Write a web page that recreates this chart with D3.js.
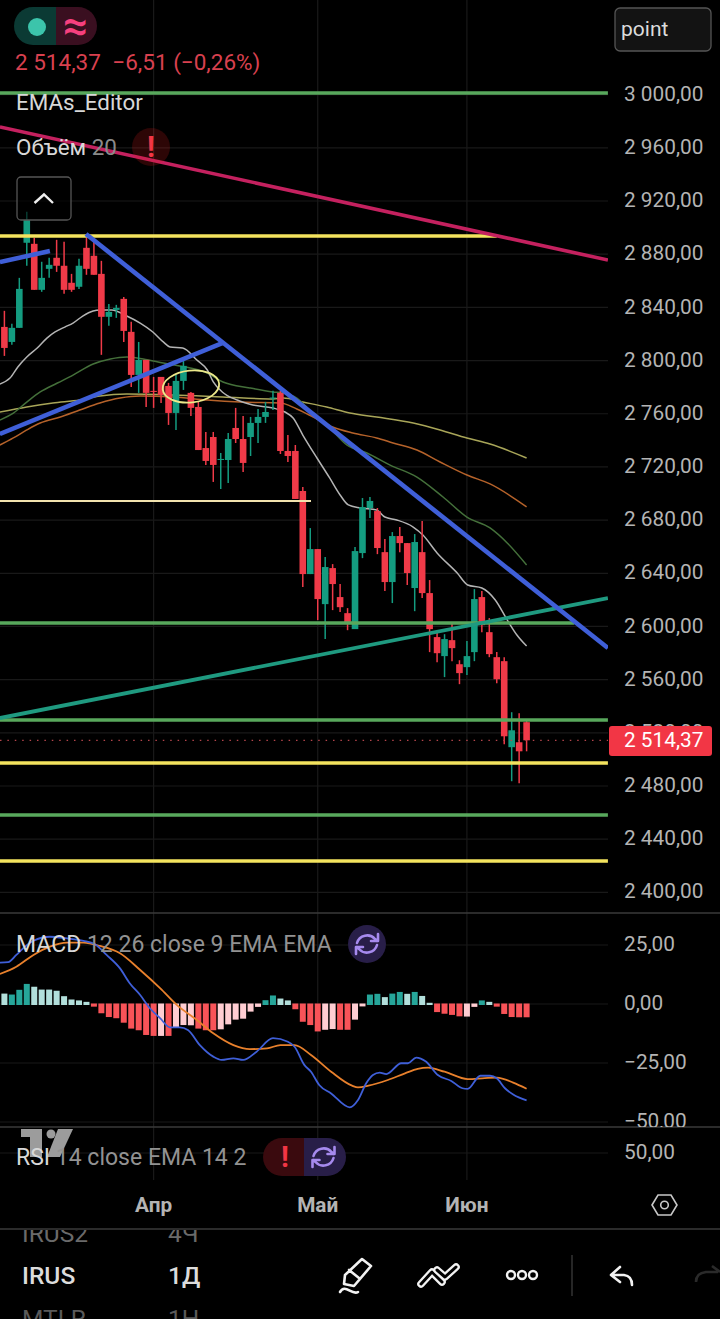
<!DOCTYPE html>
<html lang="ru"><head><meta charset="utf-8">
<script src="https://cdn.jsdelivr.net/npm/d3@7/dist/d3.min.js"></script>
<style>html,body{margin:0;background:#000;overflow:hidden}svg{display:block;font-family:Roboto,sans-serif}</style>
</head><body><div id="c"></div>
<script>
// ---------- candles (index 0..70) ----------
const open=[2825.3,2814.0,2824.6,2888.6,2887.8,2853.2,2869.0,2877.3,2871.3,2858.5,2855.5,2884.8,2878.8,2865.2,2832.9,2838.1,2846.4,2821.6,2789.2,2800.5,2777.2,2787.7,2780.9,2760.6,2784.7,2775.7,2765.1,2734.2,2742.5,2725.2,2725.2,2749.3,2741.0,2742.5,2753.1,2757.6,2771.5,2775.7,2732.0,2732.0,2701.9,2639.4,2658.2,2616.8,2643.9,2622.1,2610.0,2598.0,2655.2,2689.1,2686.8,2655.9,2633.4,2668.0,2662.7,2628.9,2655.9,2625.1,2592.0,2577.7,2589.7,2571.6,2569.4,2580.7,2622.1,2595.7,2576.9,2573.9,2509.2,2512.9,2528.0];
const high=[2837.4,2827.6,2862.2,2911.9,2892.3,2874.3,2877.3,2890.8,2889.3,2865.2,2876.5,2892.3,2889.3,2875.0,2842.6,2841.9,2847.9,2829.1,2814.0,2800.5,2787.7,2787.7,2783.2,2789.2,2800.5,2776.4,2769.6,2746.3,2746.3,2730.5,2745.5,2764.4,2758.3,2757.6,2763.6,2768.9,2777.2,2777.2,2744.0,2736.5,2704.9,2674.0,2658.2,2652.2,2646.9,2631.9,2613.8,2659.7,2696.6,2697.4,2689.1,2665.7,2671.0,2674.8,2662.7,2669.5,2679.3,2634.9,2595.0,2594.2,2602.5,2574.6,2589.0,2628.1,2626.6,2606.3,2580.7,2576.9,2535.5,2534.8,2529.5];
const low=[2803.5,2811.8,2824.6,2871.3,2853.2,2851.7,2862.2,2866.7,2850.2,2851.7,2853.9,2864.5,2864.5,2804.3,2826.1,2832.1,2814.0,2780.2,2775.7,2765.1,2764.4,2768.1,2751.6,2747.8,2777.9,2758.3,2732.7,2721.5,2708.7,2703.4,2707.9,2738.0,2716.2,2728.2,2738.0,2753.1,2762.9,2729.7,2723.7,2695.9,2629.6,2639.4,2604.8,2590.5,2612.3,2610.8,2597.2,2598.0,2651.4,2681.5,2654.4,2626.6,2617.6,2655.9,2631.1,2611.5,2621.4,2580.7,2573.1,2561.9,2573.9,2556.6,2563.4,2573.9,2595.7,2576.9,2557.3,2511.4,2483.6,2482.1,2506.1];
const close=[2809.5,2824.6,2853.9,2905.9,2853.2,2862.2,2872.0,2871.3,2853.2,2853.2,2871.3,2869.0,2864.5,2832.9,2836.6,2839.6,2822.3,2789.2,2800.5,2775.7,2776.4,2774.1,2760.6,2784.7,2796.0,2764.4,2732.7,2724.5,2721.5,2726.0,2741.0,2741.0,2723.0,2753.1,2757.6,2761.3,2772.2,2732.0,2728.2,2695.9,2639.4,2658.2,2620.6,2644.7,2631.9,2614.5,2601.8,2656.7,2689.8,2694.4,2659.0,2633.4,2668.0,2662.7,2640.2,2663.5,2625.1,2598.0,2579.9,2590.5,2583.7,2564.9,2577.7,2620.6,2601.0,2579.2,2560.3,2517.4,2521.9,2506.1,2514.37];

// ---------- moving averages: [candle index, price] ----------
const emaGray=[[-0.6,2782.4],[0.75,2786.9],[1.8,2795.2],[3,2802.7],[4.4,2809.4],[5.7,2816.9],[6.8,2821.5],[8.1,2825.2],[9.2,2828.2],[10.5,2833.5],[11.9,2837.3],[12.8,2838],[14.4,2838],[16.4,2833.5],[18.2,2828.2],[19.9,2821.5],[21.3,2814],[22.2,2810.2],[23.9,2809.4],[25.8,2800.4],[27.2,2792.9],[28,2783.9],[29.2,2776.4],[31.2,2770.3],[33.3,2766.6],[36,2764.3],[37.6,2761.3],[38.7,2756.8],[40,2744],[41.9,2726.7],[43.6,2711.7],[45,2698.9],[46.1,2691.4],[47.7,2689.1],[49.9,2687.6],[51,2682.3],[52.6,2680.1],[54.8,2674.8],[56.1,2668.8],[58,2655.3],[60.7,2640.2],[62.1,2631.2],[64,2628.9],[65.8,2619.9],[67.4,2604.9],[68.7,2593.6],[70,2585.3]];
const emaOlive=[[-0.6,2755.3],[1.2,2760.5],[3,2768.8],[4.8,2776.4],[7.1,2783.1],[9.2,2789.1],[11.9,2797.4],[14.2,2801.2],[16.4,2802.7],[18.6,2801.2],[21.3,2798.2],[24.9,2794.4],[27.2,2790.6],[29.3,2783.9],[32.9,2779.4],[36,2776.4],[37.4,2775.6],[39.2,2771.8],[41.4,2759.8],[43.6,2749.3],[45.9,2736.5],[48.6,2730.5],[51.7,2721.4],[55.3,2712.4],[58.8,2697.4],[62,2682.3],[65.1,2674.1],[67.4,2662.8],[70,2646.2]];
const emaKhaki=[[-0.6,2761.3],[3,2765.1],[6.5,2768.1],[10.1,2770.3],[12.8,2773.3],[16.4,2774.8],[22.6,2774.1],[29.3,2772.6],[36,2771.1],[37.4,2771.8],[40,2768.8],[43.2,2765.1],[46.3,2760.5],[49.9,2757.5],[54.8,2753],[58.4,2747.8],[62,2741.7],[65.1,2737.2],[70,2726.7]];
const emaOrange=[[-0.6,2736.5],[1.2,2741.8],[3,2747.8],[4.8,2753],[7.5,2757.5],[10.1,2762.8],[12.8,2768.1],[15.5,2771.8],[18.2,2773.3],[22.6,2772.6],[27.2,2770.3],[31.6,2768.8],[37,2768.1],[39.2,2763.6],[41.4,2757.5],[44,2750],[46.7,2745.5],[49.9,2741.8],[52.1,2738],[55.3,2732.7],[58.4,2723.7],[62,2713.9],[65.1,2707.2],[70,2689.9]];

// ---------- drawings: [index a, price a, index b, price b] ----------
const greenLevels=[[-0.6,3001.2,80.9,3001.2],[-0.6,2602.6,76.4,2602.6],[-0.6,2529.6,80.9,2529.6],[-0.6,2458.2,80.9,2458.2]];
const yellowLevels=[[-0.6,2893.7,66,2893.7],[-0.6,2497.3,80.9,2497.3],[-0.6,2423.6,80.9,2423.6]];
const creamLevels=[[-0.6,2694.4,41.1,2694.4]];
const pinkLines=[[-0.6,2975.7,80.9,2875.6]];
const tealLines=[[-0.6,2531.1,80.9,2621.4]];
const blueLines=[[10.94,2895.2,80.9,2583.8],[-0.6,2744.8,29.2,2813.2],[-0.6,2874.1,6.1,2882.4]];
const ellipseAt=[25,2780.5];

// ---------- MACD ----------
const hist=[4.2,3.8,5.8,8.3,7.1,5.9,5.9,5.4,3.1,1.7,1.3,0.7,-0.7,-3.5,-5.1,-5.6,-7.5,-10,-10.7,-12.7,-13.1,-13.1,-13.1,-9.6,-8.5,-8.6,-10,-10.7,-10.7,-10.3,-8.2,-6.2,-5.8,-2.8,-0.8,1.4,3.4,2.1,1.3,-1.8,-7.1,-8.5,-11.2,-10.5,-10.2,-10.5,-10.5,-6.2,-0.6,3.8,4.1,2.7,4.2,4.9,4.1,4.9,3.2,0.3,-3,-3.7,-4.2,-4.8,-4.9,-0.8,1.3,0.7,-0.7,-3.8,-5.1,-5.2,-5.2];
const histKinds=["l","g","g","g","l","l","l","l","l","l","l","l","r","r","r","r","r","r","r","r","r","p","r","p","p","p","r","r","r","p","p","p","p","p","p","g","g","l","l","r","r","r","r","p","p","r","r","p","p","g","g","l","g","g","l","g","l","l","r","r","r","r","p","p","g","l","r","r","r","r","r"];
const macdBlue=[[-0.6,17.5],[0.5,17.7],[1.6,20.8],[2.5,23.6],[3.9,26.8],[6.1,28.5],[8.4,27.8],[10.6,26.8],[12.1,25.4],[13.7,20.8],[15.5,15.1],[16.8,8.8],[18.2,3.8],[19.5,-1.8],[20.9,-6.1],[22.2,-9.9],[23.5,-9.9],[24.6,-11],[26.2,-17.4],[28,-22.3],[29.1,-23.7],[30.7,-23],[32,-23.7],[33.8,-20.2],[36,-14.5],[38,-16],[38.9,-18.1],[40.2,-25.8],[41.1,-28.7],[42.2,-34.3],[43.8,-37.9],[46.3,-43.8],[47.4,-40.7],[48.5,-33.6],[49.4,-30.1],[50.3,-29.1],[51.2,-29.7],[53.2,-25.1],[54.1,-25.1],[55.2,-22.7],[56.5,-24.4],[58.1,-30.1],[59.9,-32.6],[61.4,-35.7],[62.1,-36],[63.8,-30.4],[65.1,-30.4],[66,-31.5],[67.1,-35.7],[68.2,-38.3],[70,-40.8]];
const macdOrange=[[-0.6,12.7],[1.6,15.8],[3.9,20.8],[6.1,24.3],[8.4,26],[10.6,26],[12.8,24.6],[15.5,21.5],[18.2,14.4],[20.9,6.6],[23.1,-0.4],[25.8,-6.8],[28,-12.4],[30.7,-17.4],[32.9,-19.1],[35.2,-18.8],[37,-17.4],[38.9,-17.4],[41.1,-21.6],[43.8,-28.7],[46.6,-34.6],[47.4,-35.3],[48.8,-34.6],[51.4,-32.2],[53.7,-29.4],[55.4,-27.5],[56.8,-27],[59,-28.7],[62.1,-31.8],[64.4,-31.4],[66,-31.2],[68.2,-33.3],[70,-35.9]];

// ---------- axes ----------
const priceTicks=d3.range(3000,2399,-40);
const macdTicks=[25,0,-25,-50];
const rsiTicks=[50];
const monthNames=["Апр","Май","Июн"];
const monthIdx=[20,42,62];
const lastPrice=2514.37;

const W=720,H=1319,paneR=608;
const svg=d3.select("#c").append("svg").attr("width",W).attr("height",H).style("background","#000");
const defs=svg.append("defs");
const clip=(id,x,y,w,h)=>defs.append("clipPath").attr("id",id).append("rect").attr("x",x).attr("y",y).attr("width",w).attr("height",h);
clip("mainClip",0,0,paneR,913);clip("macdClip",0,914,paneR,213);clip("macdAxis",608,914,112,213);clip("listClip",0,1230,W,89);

const x=d3.scaleLinear().domain([0,70]).range([4.4,526.6]);
const y=d3.scaleLinear().domain([3000,2400]).range([94.66,892.36]);
const ym=d3.scaleLinear().domain([25,-50]).range([945,1122]);
const yr=d3.scaleLinear().domain([50,0]).range([1153,1290]);
const ru=d3.formatLocale({decimal:",",thousands:"\u00a0",grouping:[3],currency:["",""],minus:"\u2212"});
const fmt=ru.format(",.2f");

const GRID="#191919",SEP="#3a3a3a",AX="#b4b4b4";
// vertical grid
svg.append("g").selectAll("line").data(monthIdx).join("line").attr("x1",d=>x(d)).attr("x2",d=>x(d)).attr("y1",0).attr("y2",1180).attr("stroke",GRID).attr("stroke-width",1.2);
// horizontal grid
const hgrid=(sc,t,cp)=>svg.append("g").attr("clip-path",cp).selectAll("line").data(t).join("line").attr("x1",0).attr("x2",paneR).attr("y1",d=>sc(d)).attr("y2",d=>sc(d)).attr("stroke",GRID).attr("stroke-width",1.2);
hgrid(y,priceTicks,"url(#mainClip)");hgrid(ym,macdTicks,"url(#macdClip)");hgrid(yr,rsiTicks,null);

// main pane
const main=svg.append("g").attr("clip-path","url(#mainClip)");
const line=(sc)=>d3.line().x(d=>x(d[0])).y(d=>sc(d[1])).curve(d3.curveMonotoneX);
[[emaKhaki,"#a8a558"],[emaOrange,"#b5622a"],[emaOlive,"#44703a"],[emaGray,"#b4b4b4"]].forEach(([d,c])=>
  main.append("path").datum(d).attr("d",line(y)).attr("fill","none").attr("stroke",c).attr("stroke-width",1.5));

const UP="#149c80",DOWN="#f03a48";
const kcol=i=>close[i]>=open[i]?UP:DOWN;
const idx=d3.range(open.length);
main.append("g").selectAll("line").data(idx).join("line").attr("x1",i=>x(i)).attr("x2",i=>x(i)).attr("y1",i=>y(high[i])).attr("y2",i=>y(low[i])).attr("stroke",kcol).attr("stroke-width",1.5);
main.append("g").selectAll("rect").data(idx).join("rect").attr("x",i=>x(i)-3.3).attr("width",6.6)
 .attr("y",i=>y(Math.max(open[i],close[i]))).attr("height",i=>Math.max(1,Math.abs(y(open[i])-y(close[i])))).attr("fill",kcol);

// dotted last price
main.append("line").attr("x1",0).attr("x2",paneR).attr("y1",y(lastPrice)).attr("y2",y(lastPrice)).attr("stroke","#b5454c").attr("stroke-width",1.2).attr("stroke-dasharray","1.5 5.9");

const seg=(arr,c,w)=>main.append("g").selectAll("line").data(arr).join("line").attr("x1",d=>x(d[0])).attr("y1",d=>y(d[1])).attr("x2",d=>x(d[2])).attr("y2",d=>y(d[3])).attr("stroke",c).attr("stroke-width",w);
seg(greenLevels,"#58a85c",3.6);
seg(yellowLevels,"#f3e35e",3.6);
seg(creamLevels,"#f2e3ae",2);
seg(tealLines,"#1f9a80",3.8);
seg(pinkLines,"#c4215f",3.6);
seg(blueLines,"#3f5fd8",4.6);
const ex=x(ellipseAt[0]),ey=y(ellipseAt[1]);
main.append("ellipse").attr("cx",ex).attr("cy",ey).attr("rx",x(ellipseAt[0]+3.8)-ex).attr("ry",y(ellipseAt[1]-12)-ey)
 .attr("transform",`rotate(-6 ${ex} ${ey})`).attr("fill","none").attr("stroke","#ece88a").attr("stroke-width",1.8);

// MACD pane
const macd=svg.append("g").attr("clip-path","url(#macdClip)");
const kinds={g:"#26a69a",l:"#b2dfdb",r:"#f85358",p:"#ffcdd2"};
macd.append("g").selectAll("rect").data(hist).join("rect").attr("x",(d,i)=>x(i)-3).attr("width",6)
 .attr("y",d=>ym(Math.max(d,0))-0.5).attr("height",d=>Math.abs(ym(d)-ym(0))+1.5).attr("fill",(d,i)=>kinds[histKinds[i]]);
macd.append("path").datum(macdOrange).attr("d",line(ym)).attr("fill","none").attr("stroke","#e8802c").attr("stroke-width",1.8);
macd.append("path").datum(macdBlue).attr("d",line(ym)).attr("fill","none").attr("stroke","#3f5fd8").attr("stroke-width",1.8);

// separators
svg.append("g").selectAll("line").data([913,1127,1229]).join("line").attr("x1",0).attr("x2",W).attr("y1",d=>d).attr("y2",d=>d).attr("stroke",SEP).attr("stroke-width",1.4);

// right axes
const styleAxis=g=>{g.select(".domain").remove();g.selectAll("text").attr("fill",AX).attr("font-size",20.8).attr("font-family","Roboto").attr("x",16).attr("dy","0.27em").attr("text-anchor","start");};
svg.append("g").attr("transform",`translate(${paneR},0)`).call(d3.axisRight(y).tickValues(priceTicks).tickSize(0).tickFormat(fmt)).call(styleAxis);
svg.append("g").attr("clip-path","url(#macdAxis)").append("g").attr("transform",`translate(${paneR},0)`).call(d3.axisRight(ym).tickValues(macdTicks).tickSize(0).tickFormat(fmt)).call(styleAxis);
svg.append("g").attr("transform",`translate(${paneR},0)`).call(d3.axisRight(yr).tickValues(rsiTicks).tickSize(0).tickFormat(fmt)).call(styleAxis);

// last price label
svg.append("rect").attr("x",609).attr("y",726).attr("width",103).attr("height",30).attr("rx",3).attr("fill","#f23645");
svg.append("text").attr("x",624).attr("y",y(lastPrice)-1).attr("dy","0.36em").attr("fill","#fff").attr("font-size",20.8).text(fmt(lastPrice));

// month labels
svg.append("g").selectAll("text").data(monthIdx).join("text").attr("x",d=>x(d)).attr("y",1212).attr("text-anchor","middle").attr("fill",AX).attr("font-size",20.8).attr("font-weight",700).text((d,i)=>monthNames[i]);

// helpers
const T=(xx,yy,s,c,fs,w)=>svg.append("text").attr("x",xx).attr("y",yy).attr("fill",c).attr("font-size",fs).attr("font-weight",w||400).text(s);
const alertMark=(cx,cy)=>svg.append("text").attr("x",cx).attr("y",cy+10).attr("text-anchor","middle").attr("fill","#f23645").attr("font-size",29).attr("font-weight",700).text("!");
const sync=(cx,cy)=>{
  const g=svg.append("g").attr("transform",`translate(${cx},${cy})`).attr("fill","none").attr("stroke","#a68aee").attr("stroke-width",2.6).attr("stroke-linecap","round").attr("stroke-linejoin","round");
  g.append("path").attr("d","M-10,-1 A10.5,10.5 0 0 1 8,-5 L10,-3 M11,-10 L11,-3 L4,-3");
  g.append("path").attr("d","M10,1 A10.5,10.5 0 0 1 -8,5 L-10,3 M-11,10 L-11,3 L-4,3");
};

// top-left
svg.append("path").attr("d","M56,7 H33 a19,19 0 0 0 0,38 H56 Z").attr("fill","#0b3a34");
svg.append("path").attr("d","M56,7 H78 a19,19 0 0 1 0,38 H56 Z").attr("fill","#3a0f20");
svg.append("circle").attr("cx",37).attr("cy",27).attr("r",9).attr("fill","#3cc4ab");
svg.append("text").attr("x",75.5).attr("y",41).attr("text-anchor","middle").attr("fill","#f6407e").attr("font-size",44).attr("font-weight",500).text("≈");
T(15,69.5,"2\u00a0514,37\u2002−6,51 (−0,26%)","#d9404f",22.5);
T(16,110,"EMAs_Editor","#d8d8d8",22.4);
const vol=T(16,155,"Объём","#d8d8d8",22.4);vol.append("tspan").attr("fill","#8a8a8a").text(" 20");
svg.append("circle").attr("cx",151).attr("cy",147).attr("r",19).attr("fill","#e02020").attr("fill-opacity",.2);
alertMark(151,147);
svg.append("rect").attr("x",17).attr("y",177).attr("width",54).attr("height",43).attr("rx",4).attr("fill","#000").attr("fill-opacity",.62).attr("stroke","#555").attr("stroke-width",1.3);
svg.append("path").attr("d","M34.5,203 L44,194.5 L53,203").attr("fill","none").attr("stroke","#eee").attr("stroke-width",2.4);

// point box
svg.append("rect").attr("x",615).attr("y",8).attr("width",96).attr("height",43).attr("rx",5).attr("fill","#131313").attr("stroke","#555").attr("stroke-width",1.3);
T(621,36,"point","#dcdcdc",21);

// MACD legend
const ml=T(16,952,"MACD","#d8d8d8",23);ml.append("tspan").attr("fill","#929292").text(" 12 26 close 9 EMA EMA");
svg.append("circle").attr("cx",367).attr("cy",944).attr("r",19).attr("fill","#281e48");
sync(367,944);

// TV logo
const logo=svg.append("g").attr("fill","#9c9c9c");
logo.append("path").attr("d","M21,1129 H42 V1157 H30 V1137 H21 Z");
logo.append("circle").attr("cx",51).attr("cy",1134).attr("r",4.5);
logo.append("path").attr("d","M58,1129 H73 L60,1157 H47 Z");

// RSI legend
const rl=T(16,1165,"RSI","#d8d8d8",23);rl.append("tspan").attr("fill","#929292").text(" 14 close EMA 14 2");
svg.append("path").attr("d","M304,1138 H282 a19,19 0 0 0 0,38 H304 Z").attr("fill","#3a0a0e");
svg.append("path").attr("d","M304,1138 H327 a19,19 0 0 1 0,38 H304 Z").attr("fill","#281e48");
alertMark(285,1157);sync(323.5,1157);

// hexagon
svg.append("path").attr("d","M652,1205 L658,1195 H671 L677,1205 L671,1215 H658 Z").attr("fill","none").attr("stroke","#c8c8c8").attr("stroke-width",1.6);
svg.append("circle").attr("cx",664.5).attr("cy",1205).attr("r",3.8).attr("fill","none").attr("stroke","#c8c8c8").attr("stroke-width",1.6);

// symbol list
const list=svg.append("g").attr("clip-path","url(#listClip)");
const LT=(xx,yy,s,c,w)=>list.append("text").attr("x",xx).attr("y",yy).attr("fill",c).attr("font-size",24.5).attr("font-weight",w).text(s);
LT(22,1242,"IRUS2","#6a6a6a",400);LT(168,1242,"4Ч","#6a6a6a",400);
LT(22,1284,"IRUS","#dcdcdc",500);LT(168,1284,"1Д","#dcdcdc",500);
LT(22,1327,"MTLR","#5a5a5a",400);LT(168,1327,"1Н","#5a5a5a",400);

// toolbar icons
const ic=svg.append("g").attr("fill","none").attr("stroke","#f2f2f2").attr("stroke-width",2.6).attr("stroke-linecap","round").attr("stroke-linejoin","round");
ic.append("path").attr("d","M362,1259 L371,1266 L354,1286 L344,1284 L345,1275 Z M349,1270 L359,1278");
ic.append("path").attr("d","M340,1292 C345,1283 352,1296 358,1292");
const ribbons=["M421,1284 L432,1272 L442,1282","M437,1270 L445,1277 L456,1267"];
ribbons.forEach(d=>{
  ic.append("path").attr("d",d).attr("stroke-width",7.6);
  ic.append("path").attr("d",d).attr("stroke","#000").attr("stroke-width",3);
});
[511,522,533].forEach(cx=>ic.append("circle").attr("cx",cx).attr("cy",1275).attr("r",4).attr("stroke-width",2.4));
svg.append("line").attr("x1",572).attr("x2",572).attr("y1",1255).attr("y2",1296).attr("stroke","#333").attr("stroke-width",1.5);
ic.append("path").attr("d","M620,1267 L611,1275 L620,1282 M612,1275 H624 Q632,1276 632,1285");
svg.append("path").attr("d","M696,1282 Q696,1273 706,1272 H718 M712,1266 L720,1272").attr("fill","none").attr("stroke","#2a2a2a").attr("stroke-width",2.6);
</script></body></html>
